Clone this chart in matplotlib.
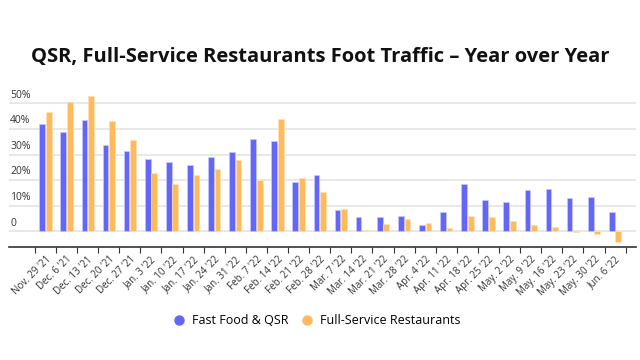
import numpy as np
import matplotlib
matplotlib.use("Agg")
import matplotlib.pyplot as plt
from matplotlib.lines import Line2D

plt.rcParams['font.family'] = ['Open Sans', 'DejaVu Sans']

# weekly year-over-year change (%)
weeks = ["Nov. 29 '21", "Dec. 6 '21", "Dec. 13 '21", "Dec. 20 '21", "Dec. 27 '21",
         "Jan. 3 '22", "Jan. 10 '22", "Jan. 17 '22", "Jan. 24 '22", "Jan. 31 '22",
         "Feb. 7 '22", "Feb. 14 '22", "Feb. 21 '22", "Feb. 28 '22", "Mar. 7 '22",
         "Mar. 14 '22", "Mar. 21 '22", "Mar. 28 '22", "Apr. 4 '22", "Apr. 11 '22",
         "Apr. 18 '22", "Apr. 25 '22", "May. 2 '22", "May. 9 '22", "May. 16 '22",
         "May. 23 '22", "May. 30 '22", "Jun. 6 '22"]
qsr = [41.9, 38.7, 43.4, 33.9, 31.5, 28.1, 27.2, 25.8, 29.2, 31.1,
       36.1, 35.2, 19.4, 21.9, 8.2, 5.7, 5.7, 6.2, 2.5, 7.7,
       18.4, 12.4, 11.5, 16.0, 16.4, 12.9, 13.4, 7.4]
fsr = [46.5, 50.4, 52.9, 43.0, 35.8, 22.8, 18.5, 21.9, 24.3, 27.7,
       20.0, 44.0, 20.8, 15.4, 8.7, 0.5, 2.7, 4.7, 3.1, 1.2,
       5.9, 5.5, 3.9, 2.5, 1.7, -0.3, -0.9, -4.2]
yticks = [0, 10, 20, 30, 40, 50]
ytick_labels = ["0", "10%", "20%", "30%", "40%", "50%"]

blue = "#6466f8"
orange = "#ffba5c"

fig = plt.figure(figsize=(6.4, 3.6), dpi=100)
ax = fig.add_axes([0.014, 1 - 247 / 360, 0.98, (247 - 88) / 360])

x = np.arange(len(weeks))
w = 0.27
ax.bar(x - 0.155, qsr, w, color=blue, edgecolor="#c8c9ff", linewidth=0.5, zorder=3)
ax.bar(x + 0.155, fsr, w, color=orange, edgecolor="#ffe2b8", linewidth=0.5, zorder=3)

ax.set_xlim(-1.73, 28.0)
ax.set_ylim(-6.1, 56)

# gridlines with labels sitting above them
for t, lab in zip(yticks, ytick_labels):
    ax.axhline(t, color="#e6e6e6", lw=1.3, zorder=1)
    ax.text(-1.68, t + 1.1, lab, fontsize=7.5, color="#333333", ha="left", va="bottom")
ax.set_yticks([])

# ticks at category boundaries, labels at category centres
ax.set_xticks(np.arange(len(weeks) + 1) - 0.5, minor=False)
ax.set_xticklabels([])
ax.tick_params(axis="x", length=4, width=0.8, color="#333333")
ax.set_xticks(x, minor=True)
ax.set_xticklabels(weeks, minor=True, rotation=45, ha="right",
                   rotation_mode="anchor", fontsize=7, color="#333333")
ax.tick_params(axis="x", which="minor", length=0, pad=5)

for s in ["top", "left", "right"]:
    ax.spines[s].set_visible(False)
ax.spines["bottom"].set_color("#333333")
ax.spines["bottom"].set_linewidth(1.2)

fig.text(0.5, 1 - 57 / 360, "QSR, Full-Service Restaurants Foot Traffic \u2013 Year over Year",
         ha="center", va="center", fontsize=14.5, fontweight="bold", color="#111111")

handles = [Line2D([], [], marker="o", ls="", color=blue, markersize=6.5),
           Line2D([], [], marker="o", ls="", color=orange, markersize=6.5)]
fig.legend(handles, ["Fast Food & QSR", "Full-Service Restaurants"],
           loc="center", bbox_to_anchor=(0.49, 1 - 321 / 360), ncol=2, frameon=False,
           fontsize=9, handletextpad=0.05, columnspacing=0.5)

fig.savefig("out.png", dpi=100)
